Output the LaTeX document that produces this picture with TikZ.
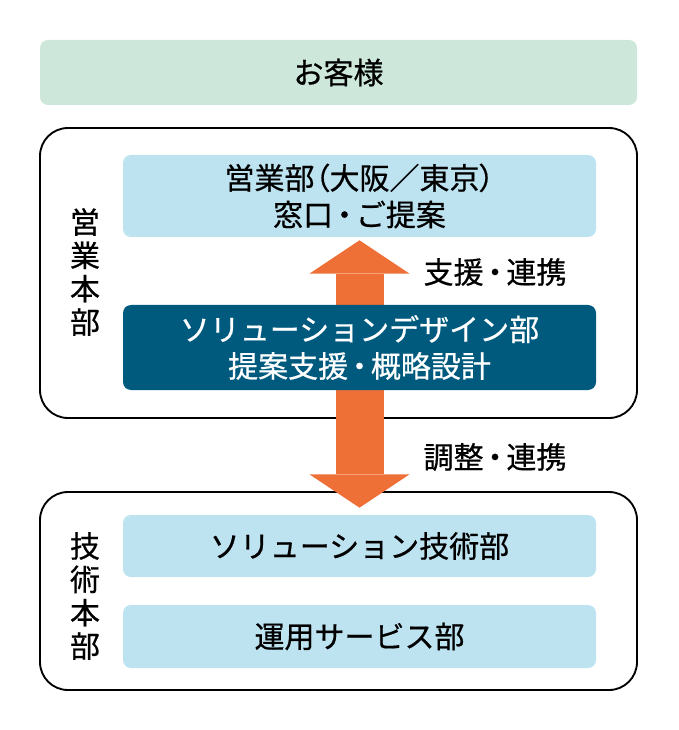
\documentclass[tikz,border=0pt]{standalone}
\usepackage{fontspec}
\setmainfont{Noto Sans CJK JP}[FakeBold=0.6]
\usetikzlibrary{positioning, arrows.meta}
\definecolor{kyaku}{HTML}{CDE8DA}
\definecolor{busho}{HTML}{BEE3F0}
\definecolor{sdbu}{HTML}{005A7E}
\definecolor{yaji}{HTML}{EE7036}
\newcommand\ten{\kern-0.12em・\kern-0.12em}
\newcommand\kakko[1]{{\addfontfeature{RawFeature=+palt}#1}}
\tikzset{
  % one unit = one pixel of the layout, y downwards
  x=0.75pt, y=-0.75pt,
  every node/.style={font=\fontsize{22.5}{27.5}\selectfont, inner sep=0pt, align=center},
  kyakubox/.style={fill=kyaku, rounded corners=6pt, minimum width=447.75pt, minimum height=48.75pt},
  honbu/.style={draw, line width=1.4pt, rounded corners=21pt, minimum width=447.75pt},
  honbulabel/.style={font=\fontsize{22.5}{25}\selectfont},
  bubox/.style={fill=busho, rounded corners=6pt, minimum width=354.75pt},
  sdbox/.style={fill=sdbu, text=white, rounded corners=6pt, minimum width=354.75pt, minimum height=63.75pt},
  yajirushi/.style={draw=yaji, line width=36pt,
    {Triangle[width=75pt, length=25pt, line width=0pt]}-{Triangle[width=75pt, length=25pt, line width=0pt]},
    shorten <=2.25pt, shorten >=5.25pt}
}

\begin{document}
\begin{tikzpicture}
  \useasboundingbox (0,0) rectangle (678,730);

  \node[kyakubox] (kyaku) at (338.5,72.5) {お客様};

  % honbu frames
  \node[honbu, minimum height=217.5pt] (eigyohonbu) at (338.5,273) {};
  \node[honbu, minimum height=148.5pt] (gijutsuhonbu) at (338.5,591) {};
  \node[honbulabel] (eigyolabel) at (85,272) {営\\業\\本\\部};
  \node[honbulabel] (gijutsulabel) at (85,596) {技\\術\\本\\部};

  \node[bubox, minimum height=61.5pt] (eigyo) at (359.5,196) {営業部\kakko{（}大阪／東京\kakko{）}\\窓口\ten ご提案};
  \node[bubox, minimum height=46.5pt] (soltech) at (359.5,546) {ソリューション技術部};
  \node[bubox, minimum height=47.25pt] (unyo) at (359.5,636.5) {運用サービス部};

  \draw[yajirushi] (eigyo.south) -- (soltech.north);

  \node[sdbox] (design) at (359.5,347.5) {ソリューションデザイン部\\提案支援\ten 概略設計};

  \node (shien) at (495,272) {支援\ten 連携};
  \node (chosei) at (495,457) {調整\ten 連携};
\end{tikzpicture}
\end{document}
